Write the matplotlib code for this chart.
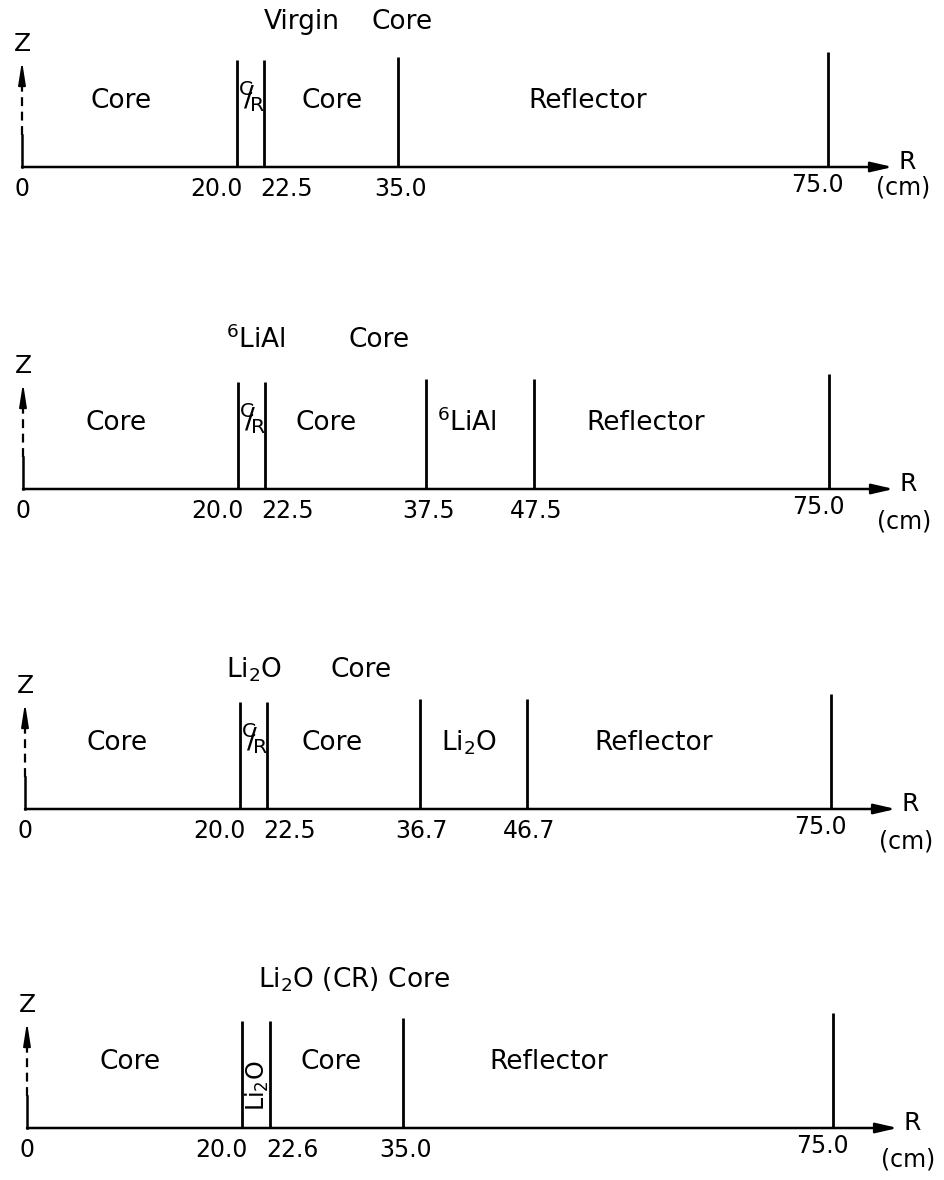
import matplotlib.pyplot as plt

# radial boundaries (cm) of the four configurations
bounds_virgin = [20.0, 22.5, 35.0, 75.0]
bounds_lial = [20.0, 22.5, 37.5, 47.5, 75.0]
bounds_li2o = [20.0, 22.5, 36.7, 46.7, 75.0]
bounds_li2o_cr = [20.0, 22.6, 35.0, 75.0]

labels_virgin = ['20.0', '22.5', '35.0', '75.0']
labels_lial = ['20.0', '22.5', '37.5', '47.5', '75.0']
labels_li2o = ['20.0', '22.5', '36.7', '46.7', '75.0']
labels_li2o_cr = ['20.0', '22.6', '35.0', '75.0']

# region names: (text, radius of label centre)
regions_virgin = [('Core', 9.2), ('Core', 28.8), ('Reflector', 52.6)]
regions_lial = [('Core', 8.7), ('Core', 28.2), ('$^6$LiAl', 41.3), ('Reflector', 57.9)]
regions_li2o = [('Core', 8.6), ('Core', 28.6), ('Li$_2$O', 41.3), ('Reflector', 58.5)]
regions_li2o_cr = [('Core', 9.6), ('Core', 28.3), ('Reflector', 48.5)]

# headings above each sketch: (text, radius)
heads_virgin = [('Virgin', 26.0), ('Core', 35.4)]
heads_lial = [('$^6$LiAl', 21.7), ('Core', 33.1)]
heads_li2o = [('Li$_2$O', 21.3), ('Core', 31.3)]
heads_li2o_cr = [('Li$_2$O (CR) Core', 30.4)]

W, H = 944, 1180
SCALE = 10.75  # px per cm

panels = [
    (bounds_virgin, labels_virgin, regions_virgin, heads_virgin, 22, 167, 145, 'CR'),
    (bounds_lial, labels_lial, regions_lial, heads_lial, 23, 489, 149, 'CR'),
    (bounds_li2o, labels_li2o, regions_li2o, heads_li2o, 25, 809, 139, 'CR'),
    (bounds_li2o_cr, labels_li2o_cr, regions_li2o_cr, heads_li2o_cr, 27, 1128, 148, 'LI'),
]

fig = plt.figure(figsize=(W / 100, H / 100), dpi=100)
plt.rcParams['font.family'] = 'DejaVu Sans'
plt.rcParams['mathtext.fontset'] = 'dejavusans'

for bounds, labels, regions, heads, x0, axis_y, head_y, gap in panels:
    left = x0 - 2 * SCALE
    ax = fig.add_axes([left / W, 1 - (axis_y + 50) / H, 84 * SCALE / W, 205 / H])
    ax.set_xlim(-2, 82)
    ax.set_ylim(-50, 155)
    ax.axis('off')

    # R axis with arrow
    ax.annotate('', xy=(81, 0), xytext=(0, 0),
                arrowprops=dict(arrowstyle='-|>,head_length=1.3,head_width=0.3',
                                lw=1.8, color='k', shrinkA=0, shrinkB=0))
    ax.text(82.3, 5, 'R', fontsize=18, ha='center', va='center')

    # Z axis, solid at the foot then dashed, with arrow head
    ax.plot([0, 0], [0, 32], color='k', lw=1.8)
    ax.plot([0, 0], [32, 92], color='k', lw=1.6, ls=(0, (4, 2.5)))
    ax.annotate('', xy=(0, 106), xytext=(0, 90),
                arrowprops=dict(arrowstyle='-|>,head_length=1.4,head_width=0.22',
                                lw=1.3, color='k', shrinkA=0, shrinkB=0))
    ax.text(0, 123, 'Z', fontsize=18, ha='center', va='center')

    # boundary lines
    n = len(bounds)
    for i, b in enumerate(bounds):
        h = 107 if i < 2 else 110
        if i == n - 1:
            h = 115
        ax.plot([b, b], [0, h], color='k', lw=2.0, solid_capstyle='butt')

    # tick labels
    ax.text(0, -22, '0', fontsize=17, ha='center', va='center')
    for i, (b, lab) in enumerate(zip(bounds, labels)):
        if i == 0:
            ax.text(b + 0.5, -22, lab, fontsize=17, ha='right', va='center')
        elif i == 1:
            ax.text(b - 0.3, -22, lab, fontsize=17, ha='left', va='center')
        elif i == n - 1:
            ax.text(b - 1.0, -18, lab, fontsize=17, ha='center', va='center')
        else:
            ax.text(b + 0.2, -22, lab, fontsize=17, ha='center', va='center')
    ax.text(82.0, -20 if axis_y < 300 else -32, '(cm)', fontsize=17,
            ha='center', va='center')

    # region labels
    for txt, r in regions:
        ax.text(r, 66, txt, fontsize=19, ha='center', va='center')

    # narrow gap label between first two lines
    lo, hi = bounds[0], bounds[1]
    if gap == 'CR':
        ax.text((lo + hi) / 2 + 0.1, 70, r'$^{\mathrm{C}}\!\!/\!_{\mathrm{R}}$',
                fontsize=21, ha='center', va='center')
    else:
        ax.text((lo + hi) / 2 + 0.1, 42, 'Li$_2$O', fontsize=17, ha='center',
                va='center', rotation=90)

    # headings
    for txt, r in heads:
        ax.text(r, head_y, txt, fontsize=19, ha='center', va='center')

fig.savefig('out.png', dpi=100, facecolor='white')
